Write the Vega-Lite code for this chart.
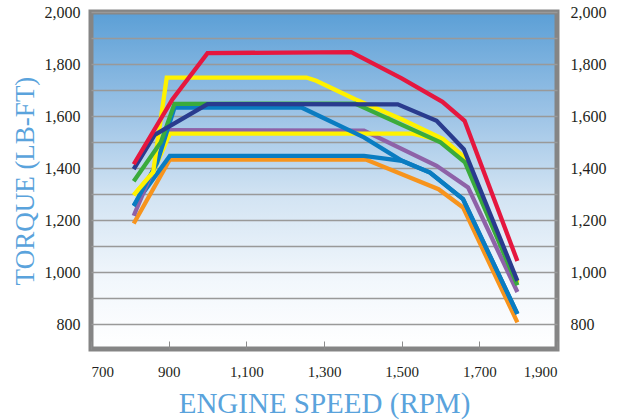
{
  "$schema": "https://vega.github.io/schema/vega-lite/v6.json",
  "width": 466,
  "height": 337,
  "autosize": "none",
  "padding": {"left": 91, "top": 12, "right": 62, "bottom": 71},
  "background": "#ffffff",
  "config": {
    "view": {
      "fill": {"gradient": "linear", "x1": 0, "y1": 0, "x2": 0, "y2": 1,
        "stops": [
          {"offset": 0, "color": "#5b9fd6"},
          {"offset": 0.3, "color": "#9cc3e6"},
          {"offset": 0.55, "color": "#d3e4f3"},
          {"offset": 0.8, "color": "#f2f7fc"},
          {"offset": 1, "color": "#ffffff"}
        ]},
      "stroke": "#858585",
      "strokeWidth": 5
    },
    "axis": {
      "labelFont": "Liberation Serif",
      "labelColor": "#231f20",
      "titleFont": "Liberation Serif",
      "titleColor": "#5aa3dc",
      "titleFontWeight": "normal",
      "domain": false
    }
  },
  "data": {
    "values": [
      {"s": "orange", "rpm": 810, "torque": 1187},
      {"s": "orange", "rpm": 903, "torque": 1433},
      {"s": "orange", "rpm": 1408, "torque": 1433},
      {"s": "orange", "rpm": 1595, "torque": 1319},
      {"s": "orange", "rpm": 1658, "torque": 1249},
      {"s": "orange", "rpm": 1798, "torque": 807},
      {"s": "blue low", "rpm": 810, "torque": 1255},
      {"s": "blue low", "rpm": 903, "torque": 1447},
      {"s": "blue low", "rpm": 1403, "torque": 1447},
      {"s": "blue low", "rpm": 1501, "torque": 1428},
      {"s": "blue low", "rpm": 1573, "torque": 1383},
      {"s": "blue low", "rpm": 1658, "torque": 1281},
      {"s": "blue low", "rpm": 1798, "torque": 840},
      {"s": "purple", "rpm": 810, "torque": 1217},
      {"s": "purple", "rpm": 903, "torque": 1546},
      {"s": "purple", "rpm": 1403, "torque": 1544},
      {"s": "purple", "rpm": 1590, "torque": 1409},
      {"s": "purple", "rpm": 1671, "torque": 1326},
      {"s": "purple", "rpm": 1798, "torque": 924},
      {"s": "yellow low", "rpm": 810, "torque": 1296},
      {"s": "yellow low", "rpm": 860, "torque": 1385},
      {"s": "yellow low", "rpm": 903, "torque": 1533},
      {"s": "yellow low", "rpm": 1525, "torque": 1533},
      {"s": "yellow low", "rpm": 1607, "torque": 1505},
      {"s": "yellow low", "rpm": 1667, "torque": 1430},
      {"s": "yellow low", "rpm": 1798, "torque": 958},
      {"s": "blue high", "rpm": 810, "torque": 1255},
      {"s": "blue high", "rpm": 870, "torque": 1420},
      {"s": "blue high", "rpm": 915, "torque": 1633},
      {"s": "blue high", "rpm": 1242, "torque": 1633},
      {"s": "blue high", "rpm": 1403, "torque": 1518},
      {"s": "blue high", "rpm": 1501, "torque": 1428},
      {"s": "blue high", "rpm": 1573, "torque": 1383},
      {"s": "blue high", "rpm": 1658, "torque": 1281},
      {"s": "blue high", "rpm": 1798, "torque": 840},
      {"s": "yellow high", "rpm": 810, "torque": 1296},
      {"s": "yellow high", "rpm": 860, "torque": 1385},
      {"s": "yellow high", "rpm": 895, "torque": 1748},
      {"s": "yellow high", "rpm": 1255, "torque": 1748},
      {"s": "yellow high", "rpm": 1280, "torque": 1736},
      {"s": "yellow high", "rpm": 1380, "torque": 1665},
      {"s": "yellow high", "rpm": 1500, "torque": 1588},
      {"s": "yellow high", "rpm": 1607, "torque": 1512},
      {"s": "yellow high", "rpm": 1667, "torque": 1435},
      {"s": "yellow high", "rpm": 1798, "torque": 962},
      {"s": "green", "rpm": 810, "torque": 1350},
      {"s": "green", "rpm": 880, "torque": 1500},
      {"s": "green", "rpm": 915, "torque": 1647},
      {"s": "green", "rpm": 1380, "torque": 1648},
      {"s": "green", "rpm": 1600, "torque": 1499},
      {"s": "green", "rpm": 1663, "torque": 1422},
      {"s": "green", "rpm": 1798, "torque": 950},
      {"s": "navy", "rpm": 810, "torque": 1396},
      {"s": "navy", "rpm": 864, "torque": 1528},
      {"s": "navy", "rpm": 1000, "torque": 1646},
      {"s": "navy", "rpm": 1490, "torque": 1645},
      {"s": "navy", "rpm": 1590, "torque": 1582},
      {"s": "navy", "rpm": 1660, "torque": 1473},
      {"s": "navy", "rpm": 1798, "torque": 967},
      {"s": "red", "rpm": 810, "torque": 1415},
      {"s": "red", "rpm": 910, "torque": 1665},
      {"s": "red", "rpm": 1000, "torque": 1842},
      {"s": "red", "rpm": 1370, "torque": 1846},
      {"s": "red", "rpm": 1500, "torque": 1745},
      {"s": "red", "rpm": 1605, "torque": 1655},
      {"s": "red", "rpm": 1662, "torque": 1582},
      {"s": "red", "rpm": 1798, "torque": 1043}
    ]
  },
  "layer": [
    {
      "mark": {"type": "line", "strokeWidth": 4.3, "strokeJoin": "miter"},
      "encoding": {
        "x": {
          "field": "rpm", "type": "quantitative",
          "scale": {"domain": [700, 1900], "nice": false, "zero": false},
          "axis": {
            "values": [700, 900, 1100, 1300, 1500, 1700, 1900],
            "labelExpr": "format(datum.value, ',')",
            "grid": false,
            "ticks": true,
            "tickSize": -8,
            "tickColor": "#8c8c8c",
            "tickWidth": 1,
            "labelFontSize": 15,
            "labelPadding": 23,
            "title": "ENGINE SPEED (RPM)",
            "titleFontSize": 29,
            "titlePadding": 10
          }
        },
        "y": {
          "field": "torque", "type": "quantitative",
          "scale": {"domain": [705, 2000], "nice": false, "zero": false},
          "axis": {
            "orient": "left",
            "values": [800, 900, 1000, 1100, 1200, 1300, 1400, 1500, 1600, 1700, 1800, 1900, 2000],
            "labelExpr": "datum.value % 200 == 0 ? format(datum.value, ',') : ''",
            "grid": true,
            "gridColor": "#999999",
            "gridWidth": 1.5,
            "ticks": false,
            "labelFontSize": 16,
            "labelPadding": 11,
            "title": "TORQUE (LB-FT)",
            "titleFontSize": 27,
            "titlePadding": 5
          }
        },
        "color": {
          "field": "s", "type": "nominal", "legend": null,
          "scale": {
            "domain": ["orange", "blue low", "purple", "yellow low", "blue high", "yellow high", "green", "navy", "red"],
            "range": ["#f7941d", "#0a7cc1", "#8e62a8", "#fff200", "#0a7cc1", "#fff200", "#3aab3c", "#293b8e", "#e5173f"]
          }
        }
      }
    },
    {
      "mark": {"type": "line", "opacity": 0},
      "encoding": {
        "x": {"field": "rpm", "type": "quantitative"},
        "y": {
          "field": "torque", "type": "quantitative",
          "axis": {
            "orient": "right",
            "values": [800, 1000, 1200, 1400, 1600, 1800, 2000],
            "labelExpr": "format(datum.value, ',')",
            "grid": false,
            "ticks": false,
            "labelFontSize": 16,
            "labelPadding": 13,
            "title": null
          }
        },
        "detail": {"field": "s"}
      }
    }
  ],
  "resolve": {"axis": {"y": "independent"}}
}
